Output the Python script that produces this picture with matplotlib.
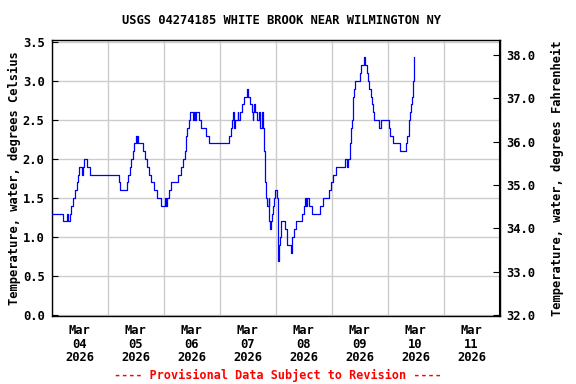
import pandas as pd
import matplotlib
matplotlib.use("Agg")
import matplotlib.pyplot as plt
import matplotlib.dates as mdates
from matplotlib.ticker import FixedLocator, NullFormatter

# Readings: hours after Mar 04 2026 00:00 and water temperature (deg C)
hours = [
    0, 5.0, 6.75, 7.25, 7.75, 8.25, 9.25, 10.0, 10.75, 11.25, 11.75, 13.0, 13.5,
    14.0, 15.25, 16.5, 28.75, 29.5, 32.25, 32.75, 33.5, 34.25, 35.0, 35.5, 36.25,
    36.5, 36.75, 37.0, 39.25, 40.0, 41.0, 41.75, 42.75, 44.0, 45.25, 47.0, 48.75,
    49.0, 49.5, 50.25, 51.25, 54.25, 55.5, 56.25, 57.0, 57.5, 57.75, 58.25, 58.75,
    59.25, 60.5, 61.0, 61.5, 62.0, 63.0, 64.25, 66.25, 67.5, 76.25, 76.75, 77.25,
    77.75, 78.0, 78.25, 78.75, 79.75, 80.0, 80.75, 81.75, 82.5, 83.75, 84.25, 85.0,
    85.75, 86.25, 86.5, 86.75, 87.25, 88.0, 88.75, 89.25, 90.0, 90.75, 91.0, 91.25,
    91.5, 92.0, 92.25, 93.0, 93.25, 93.5, 94.0, 94.5, 94.75, 95.25, 95.75, 96.5,
    97.0, 97.25, 97.5, 98.0, 98.25, 100.25, 100.75, 101.0, 102.75, 103.0, 103.25,
    104.0, 104.75, 107.25, 108.0, 108.75, 109.25, 109.5, 110.25, 111.5, 115.0,
    116.5, 118.75, 119.75, 120.5, 122.0, 125.75, 126.5, 127.0, 127.75, 128.0,
    128.25, 128.5, 128.75, 129.0, 129.25, 129.75, 130.25, 132.0, 132.75, 134.0,
    134.25, 135.0, 135.75, 136.25, 136.75, 137.25, 137.75, 138.25, 140.5, 141.25,
    144.75, 145.25, 146.25, 149.25, 152.0, 152.5, 153.0, 153.25, 153.5, 154.0,
    154.5, 154.75, 155.25, 155.5,
]
temp_c = [
    1.3, 1.2, 1.3, 1.2, 1.3, 1.4, 1.5, 1.6, 1.7, 1.8, 1.9, 1.8, 1.9,
    2.0, 1.9, 1.8, 1.7, 1.6, 1.7, 1.8, 1.9, 2.0, 2.1, 2.2, 2.3,
    2.2, 2.3, 2.2, 2.1, 2.0, 1.9, 1.8, 1.7, 1.6, 1.5, 1.4, 1.5,
    1.4, 1.5, 1.6, 1.7, 1.8, 1.9, 2.0, 2.1, 2.2, 2.3, 2.4, 2.5,
    2.6, 2.5, 2.6, 2.5, 2.6, 2.5, 2.4, 2.3, 2.2, 2.3, 2.4, 2.5,
    2.6, 2.5, 2.4, 2.5, 2.6, 2.5, 2.6, 2.7, 2.8, 2.9, 2.8, 2.7,
    2.6, 2.5, 2.6, 2.7, 2.6, 2.5, 2.6, 2.4, 2.6, 2.4, 2.2, 2.1,
    1.7, 1.5, 1.4, 1.5, 1.2, 1.1, 1.2, 1.3, 1.4, 1.5, 1.6, 1.5,
    1.0, 0.7, 0.9, 1.0, 1.2, 1.1, 1.0, 0.9, 0.8, 0.9, 1.0,
    1.1, 1.2, 1.3, 1.4, 1.5, 1.4, 1.5, 1.4, 1.3, 1.4,
    1.5, 1.6, 1.7, 1.8, 1.9, 2.0, 1.9, 2.0, 2.1, 2.2,
    2.3, 2.4, 2.5, 2.6, 2.8, 2.9, 3.0, 3.1, 3.2, 3.3,
    3.2, 3.1, 3.0, 2.9, 2.8, 2.7, 2.6, 2.5, 2.4, 2.5,
    2.4, 2.3, 2.2, 2.1, 2.2, 2.3, 2.4, 2.5, 2.6, 2.7,
    2.8, 3.0, 3.1, 3.3,
]

start = pd.Timestamp("2026-03-04")
end = pd.Timestamp("2026-03-12")
times = start + pd.to_timedelta(hours, unit="h")

left_ticks = [0.0, 0.5, 1.0, 1.5, 2.0, 2.5, 3.0, 3.5]
right_ticks = [32.0, 33.0, 34.0, 35.0, 36.0, 37.0, 38.0]
c_lim = (-0.01, 3.53)

font = "DejaVu Sans Mono"
fs = 8.7

fig = plt.figure(figsize=(5.76, 3.84), dpi=100)
ax = fig.add_axes([51.5 / 576, 1 - 316 / 384, 448 / 576, 276.5 / 384])

ax.plot(times, temp_c, color="#0000ff", linewidth=0.9, drawstyle="steps-post", zorder=3)

ax.set_xlim(start, end)
ax.set_ylim(*c_lim)

# day boundaries carry the grid, labels sit at noon
ax.xaxis.set_major_locator(mdates.DayLocator())
ax.xaxis.set_major_formatter(NullFormatter())
ax.xaxis.set_minor_locator(mdates.HourLocator(byhour=12))
ax.xaxis.set_minor_formatter(mdates.DateFormatter("%b\n%d\n%Y"))
ax.tick_params(axis="x", which="both", length=0, pad=6)
for lab in ax.xaxis.get_minorticklabels():
    lab.set_fontfamily(font)
    lab.set_fontweight("bold")
    lab.set_fontsize(fs)
    lab.set_linespacing(1.05)

ax.yaxis.set_major_locator(FixedLocator(left_ticks))
ax.set_yticklabels(["%.1f" % v for v in left_ticks], fontfamily=font,
                   fontweight="bold", fontsize=fs)
ax.tick_params(axis="y", direction="in", length=4, pad=5)

ax.grid(True, which="major", color="#cccccc", linewidth=1.0)
ax.set_axisbelow(True)
for s in ax.spines.values():
    s.set_linewidth(1.0)

ax.set_ylabel("Temperature, water, degrees Celsius", fontfamily=font,
              fontweight="bold", fontsize=fs, labelpad=1)

ax2 = ax.twinx()
ax2.set_ylim(c_lim[0] * 1.8 + 32, c_lim[1] * 1.8 + 32)
ax2.yaxis.set_major_locator(FixedLocator(right_ticks))
ax2.set_yticklabels(["%.1f" % v for v in right_ticks], fontfamily=font,
                    fontweight="bold", fontsize=fs)
ax2.tick_params(axis="y", direction="in", length=4, pad=5)
for name in ["left", "top", "bottom"]:
    ax2.spines[name].set_visible(False)
ax2.set_ylabel("Temperature, water, degrees Fahrenheit", fontfamily=font,
               fontweight="bold", fontsize=fs, labelpad=11)

fig.text(282 / 576, 1 - 20 / 384, "USGS 04274185 WHITE BROOK NEAR WILMINGTON NY",
         ha="center", va="center", fontfamily=font, fontweight="bold", fontsize=fs)
fig.text(278 / 576, 1 - 375 / 384, "---- Provisional Data Subject to Revision ----",
         ha="center", va="center", color="#ff0000", fontfamily=font,
         fontweight="bold", fontsize=8.5)

fig.savefig("out.png", dpi=100)
plt.close(fig)
